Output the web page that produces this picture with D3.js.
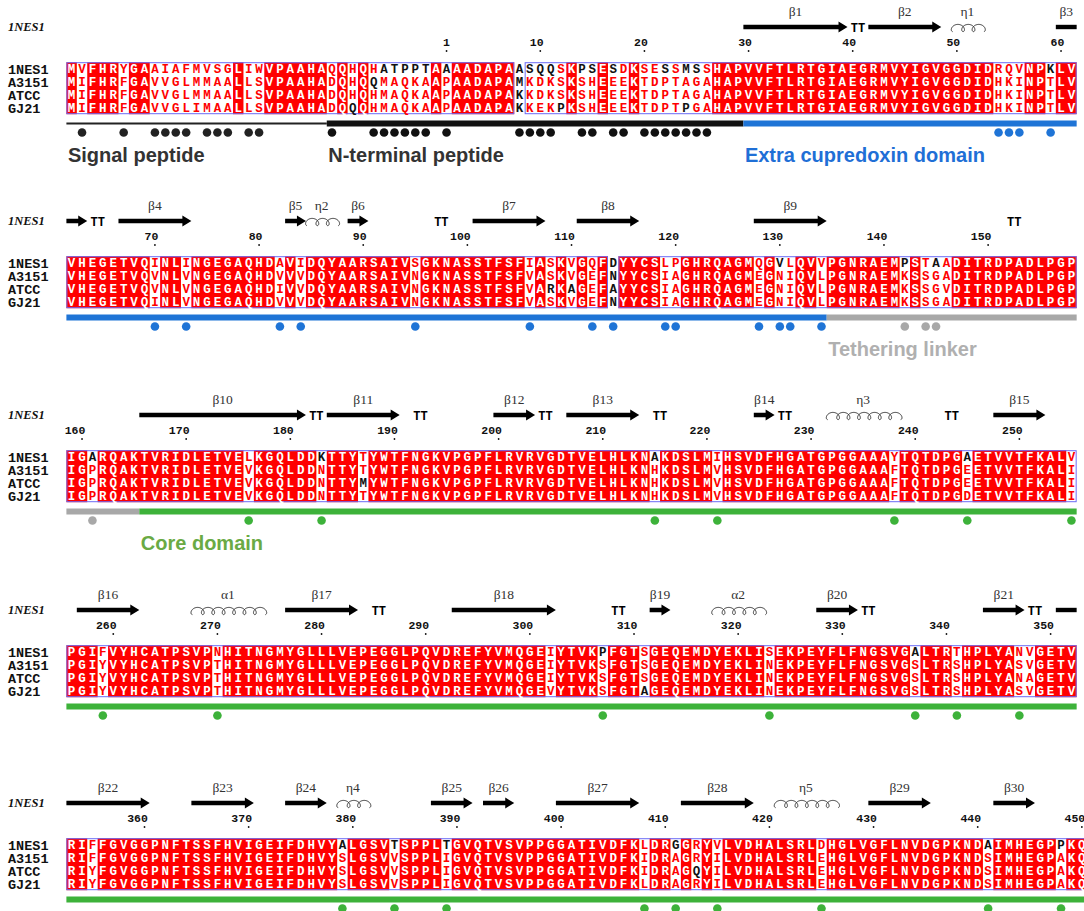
<!DOCTYPE html>
<html>
<head>
<meta charset="utf-8">
<script src="https://cdn.jsdelivr.net/npm/d3@7"></script>
<style>
  body { margin: 0; background: #fff; }
  svg { display: block; }
</style>
</head>
<body>
<svg id="chart" width="1084" height="911"></svg>
<script>
// ---------------- alignment data ----------------
const seqNames = ["1NES1", "A3151", "ATCC", "GJ21"];
// residue number (1NES1 numbering) of the first column of each line
const lineStart = [-35, 62, 159, 256, 353];

const seq1NES1 = [
  "MVFHRYGAAIAFMVSGLIWVPAAHAQQHQHATPPTAAAADAPAASQQSKPSESDKSESSMSSHAPVVFTLRTGIAEGRMVYIGVGGDIDRQVNPKLV",
  "VHEGETVQINLINGEGAQHDAVIDQYAARSAIVSGKNASSTFSFIASKVGQFDYYCSLPGHRQAGMQGVLQVVPGNRAEMPSTAADITRDPADLPGP",
  "IGARQAKTVRIDLETVELKGQLDDKTTYTYWTFNGKVPGPFLRVRVGDTVELHLKNAKDSLMIHSVDFHGATGPGGAAAYTQTDPGAETVVTFKALV",
  "PGIFVYHCATPSVPNHITNGMYGLLLVEPEGGLPQVDREFYVMQGEIYTVKPFGTSGEQEMDYEKLISEKPEYFLFNGSVGALTRTHPLYANVGETV",
  "RIFFGVGGPNFTSSFHVIGEIFDHVYALGSVTSPPLTGVQTVSVPPGGATIVDFKLDRGGRYVLVDHALSRLDHGLVGFLNVDGPKNDAIMHEGPPKQ"
];
const seqA3151 = [
  "MIFHRFGAVVGLMMAALLSVPAAHADQHQQMAQKAAPAADAPAMKDKSKSHEEEKTDPTAGAHAPVVFTLRTGIAEGRMVYIGVGGDIDHKINPTLV",
  "VHEGETVQVNLVNGEGAQHDVVVDQYAARSAIVNGKNASSTFSFVASKVGEFNYYCSIAGHRQAGMEGNIQVLPGNRAEMKSSGADITRDPADLPGP",
  "IGPRQAKTVRIDLETVEVKGQLDDNTTYTYWTFNGKVPGPFLRVRVGDTVELHLKNHKDSLMVHSVDFHGATGPGGAAAFTQTDPGEETVVTFKALI",
  "PGIYVYHCATPSVPTHITNGMYGLLLVEPEGGLPQVDREFYVMQGEIYTVKSFGTSGEQEMDYEKLINEKPEYFLFNGSVGSLTRSHPLYASVGETV",
  "RIFFGVGGPNFTSSFHVIGEIFDHVYSLGSVVSPPLIGVQTVSVPPGGATIVDFKIDRAGRYILVDHALSRLEHGLVGFLNVDGPKNDSIMHEGPAKQ"
];
const seqATCC = [
  "MIFHRFGAVVGLMMAALLSVPAAHADQHQHMAQKAAPAADAPAKKDKSKSHEEEKTDPTAGAHAPVVFTLRTGIAEGRMVYIGVGGDIDHKINPTLV",
  "VHEGETVQVNLVNGEGAQHDIVVDQYAARSAIVNGKNASSTFSFVARKAGEFAYYCSIAGHRQAGMEGNIQVLPGNRAEMKSSGVDITRDPADLPGP",
  "IGPRQAKTVRIDLETVEVKGQLDDNTTYMYWTFNGKVPGPFLRVRVGDTVELHLKNHKDSLMVHSVDFHGATGPGGAAAFTQTDPGEETVVTFKALI",
  "PGIYVYHCATPSVPTHITNGMYGLLLVEPEGGLPQVDREFYVMQGEIYTVKSFGTSGEQEMDYEKLINEKPEYFLFNGSVGSLTRSHPLYANAGETV",
  "RIYFGVGGPNFTSSFHVIGEIFDHVYSLGSVVSPPLIGVQTVSVPPGGATIVDFKIDRAGQYILVDHALSRLEHGLVGFLNVDGPKNDSIMHEGPAKQ"
];
const seqGJ21 = [
  "MIFHRFGAVVGLIMAALLSVPAAHADQQQHMAQKAAPAADAPAKKEKPKSHEEEKTDPTPGAHAPVVFTLRTGIAEGRMVYIGVGGDIDHKINPTLV",
  "VHEGETVQINLVNGEGAQHDVVVDQYAARSAIVNGKNASSTFSFVASKVGEFNYYCSIAGHRQAGMEGNIQVLPGNRAEMKSSGADITRDPADLPGP",
  "IGPRQAKTVRIDLETVEVKGQLDDNTTYTYWTFNGKVPGPFLRVRVGDTVELHLKNHKDSLMVHSVDFHGATGPGGAAAFTQTDPGDETVVTFKALI",
  "PGIYVYHCATPSVPTHITNGMYGLLLVEPEGGLPQVDREFYVMQGEVYTVKSFGTAGEQEMDYEKLINEKPEYFLFNGSVGSLTRSHPLYASVGETV",
  "RIYFGVGGPNFTSSFHVIGEIFDHVYSLGSVVSPPLIGVQTVSVPPGGATIVDFKLDRAGRYILVDHALSRLEHGLVGFLNVDGPKNDSIMHEGPAKQ"
];

// columns (1-based, per line) that are not boxed as similar
const unboxedColumns = [[44], [53], [], [], []];
// residues printed in black inside boxed columns: [sequence index, column]
const blackResidues = [
  [[0,31],[0,32],[0,33],[0,34],[0,35],[0,37],[0,45],[0,46],[0,47],[3,48],[0,50],[0,51],[0,53],[0,58],[0,60],[3,60],[0,61],[0,95],[3,28],[1,30]],
  [[0,69],[0,81],[0,84],[2,47],[2,49]],
  [[0,3],[0,25],[2,29],[0,57],[0,87]],
  [[0,52],[3,56],[0,82]],
  [[0,27],[0,32],[0,37],[0,59],[2,61],[0,89],[0,96]]
];

// ruler numbers per line
const rulerTicks = [
  [1, 10, 20, 30, 40, 50, 60],
  [70, 80, 90, 100, 110, 120, 130, 140, 150],
  [160, 170, 180, 190, 200, 210, 220, 230, 240, 250],
  [260, 270, 280, 290, 300, 310, 320, 330, 340, 350],
  [360, 370, 380, 390, 400, 410, 420, 430, 440, 450]
];

// secondary structure of 1NES1: [type, first residue, last residue, label]
// E = strand, H = helix (alpha / 3-10), T = turn
const secondaryStructure = [
  ["E", 30, 39, "β1"], ["T", 40, 41, ""], ["E", 42, 48, "β2"], ["H", 50, 52, "η1"],
  ["E", 60, 63, "β3"], ["T", 64, 65, ""],
  ["E", 67, 73, "β4"], ["E", 83, 84, "β5"], ["H", 85, 87, "η2"], ["E", 89, 90, "β6"],
  ["T", 97, 98, ""], ["E", 101, 107, "β7"], ["E", 111, 116, "β8"], ["E", 128, 134, "β9"],
  ["T", 152, 153, ""],
  ["E", 166, 181, "β10"], ["T", 182, 183, ""], ["E", 184, 190, "β11"], ["T", 192, 193, ""],
  ["E", 200, 203, "β12"], ["T", 204, 205, ""], ["E", 207, 213, "β13"], ["T", 215, 216, ""],
  ["E", 225, 226, "β14"], ["T", 227, 228, ""], ["H", 232, 238, "η3"], ["T", 243, 244, ""],
  ["E", 248, 252, "β15"],
  ["E", 257, 262, "β16"], ["H", 268, 274, "α1"], ["E", 277, 283, "β17"], ["T", 285, 286, ""],
  ["E", 293, 302, "β18"], ["T", 308, 309, ""], ["E", 312, 313, "β19"], ["H", 318, 322, "α2"],
  ["E", 328, 331, "β20"], ["T", 332, 333, ""], ["E", 344, 347, "β21"], ["T", 348, 349, ""],
  ["E", 351, 360, "β22"], ["E", 365, 370, "β23"], ["E", 374, 377, "β24"], ["H", 379, 381, "η4"],
  ["E", 388, 391, "β25"], ["E", 393, 395, "β26"], ["E", 400, 407, "β27"], ["E", 412, 418, "β28"],
  ["H", 421, 426, "η5"], ["E", 430, 435, "β29"], ["E", 442, 445, "β30"]
];

// domains (1NES1 numbering)
const domainNames = ["Signal peptide", "N-terminal peptide", "Extra cupredoxin domain", "Tethering linker", "Core domain"];
const domainFrom = [-35, -10, 30, 135, 166];
const domainTo = [-11, 29, 134, 165, 450];
const domainColors = ["#222222", "#111111", "#1f74d6", "#a8a8a8", "#3db23a"];
const domainTextColors = ["#333333", "#333333", "#1f6fd6", "#b0b0b0", "#6aaa44"];
const domainBarWeight = [2, 6, 6, 6, 6];
// line on which each domain caption is written
const domainLabelLine = [0, 0, 0, 1, 2];

// columns (per line) where 1NES1 differs from the other strains
const markedColumns = [
  [2, 6, 9, 10, 11, 12, 14, 15, 16, 18, 19, 26, 30, 31, 32, 33, 34, 35, 37, 44, 45, 46, 47, 50, 51, 53, 54, 56, 57, 58, 59, 60, 61, 62, 90, 91, 92, 95],
  [9, 12, 21, 23, 34, 45, 51, 53, 58, 59, 67, 69, 70, 73, 81, 83, 84],
  [3, 18, 25, 57, 63, 80, 87, 97],
  [4, 15, 52, 68, 82, 86, 92],
  [27, 32, 37, 56, 59, 63, 73, 89, 96]
];

// ---------------- drawing ----------------
const allSeqs = [seq1NES1, seqA3151, seqATCC, seqGJ21];
const svg = d3.select("#chart");
const colW = 10.415;
const rowStep = 13;
const xCol = d3.scaleLinear().domain([0, 97]).range([66.4, 66.4 + 97 * colW]); // left edge of 0-based column
const lineTop = [0, 194, 388, 583, 776];
const rowY = d3.scaleLinear().domain([0, 1]).range([69, 69 + rowStep]);

const RED = "#ff0000", FRAME = "#6b6bf5";
const seqFont = "'Liberation Mono', 'DejaVu Sans Mono', monospace";

function runs(flags) {
  const out = []; let s = -1;
  flags.forEach((f, i) => {
    if (f && s < 0) s = i;
    if (!f && s >= 0) { out.push([s, i - 1]); s = -1; }
  });
  if (s >= 0) out.push([s, flags.length - 1]);
  return out;
}

function domainAt(res) {
  for (let d = 0; d < domainFrom.length; d++) if (res >= domainFrom[d] && res <= domainTo[d]) return d;
  return -1;
}

for (let b = 0; b < 5; b++) {
  const g = svg.append("g").attr("transform", `translate(0,${lineTop[b]})`);
  const nCol = seq1NES1[b].length;
  const cols = d3.range(nCol).map(c => allSeqs.map(s => s[b][c]));
  const identical = cols.map(r => r.every(a => a === r[0]));
  const boxed = cols.map((r, c) => !unboxedColumns[b].includes(c + 1));
  const blackSet = new Set(blackResidues[b].map(d => d[0] + ":" + d[1]));

  const bgTop = rowY(0) - 6.8, bgH = rowStep * 4;

  // red background for strictly conserved columns
  g.selectAll("rect.ident").data(runs(identical)).join("rect")
    .attr("x", d => xCol(d[0])).attr("width", d => xCol(d[1] + 1) - xCol(d[0]))
    .attr("y", bgTop).attr("height", bgH).attr("fill", RED);

  // blue boxes around similar stretches
  g.selectAll("rect.box").data(runs(boxed)).join("rect")
    .attr("x", d => xCol(d[0]) + 0.5).attr("width", d => xCol(d[1] + 1) - xCol(d[0]) - 1)
    .attr("y", bgTop + 0.5).attr("height", bgH - 1)
    .attr("fill", "none").attr("stroke", FRAME).attr("stroke-width", 1);

  // residues
  allSeqs.forEach((s, i) => {
    g.append("g").selectAll("text").data(s[b].split("")).join("text")
      .attr("x", (d, c) => xCol(c + 0.5)).attr("y", rowY(i) + 4.4)
      .attr("text-anchor", "middle")
      .attr("font-family", seqFont).attr("font-weight", "bold").attr("font-size", 12.5)
      .attr("fill", (d, c) => {
        if (identical[c]) return "#ffffff";
        if (!boxed[c]) return "#111111";
        return blackSet.has(i + ":" + (c + 1)) ? "#111111" : RED;
      })
      .text(d => d);
    g.append("text").attr("x", 8).attr("y", rowY(i) + 4.6)
      .attr("font-family", "'Liberation Mono', monospace").attr("font-weight", "bold").attr("font-size", 13.5)
      .attr("fill", "#111").text(seqNames[i]);
  });

  // structure row caption
  g.append("text").attr("x", 8).attr("y", 31)
    .attr("font-family", "'Liberation Serif', serif").attr("font-weight", "bold").attr("font-style", "italic")
    .attr("font-size", 12.5).attr("fill", "#111").text("1NES1");

  // ruler
  const ticks = rulerTicks[b].map(n => ({ n, c: n - lineStart[b] + 1 }));
  g.selectAll("text.tick").data(ticks).join("text")
    .attr("x", d => xCol(d.c - 0.5) + 3.4).attr("y", 46)
    .attr("text-anchor", "end")
    .attr("font-family", seqFont).attr("font-weight", "bold").attr("font-size", 11.5)
    .attr("fill", "#111").text(d => d.n);
  g.selectAll("circle.tick").data(ticks).join("circle")
    .attr("cx", d => xCol(d.c - 0.5)).attr("cy", 51).attr("r", 0.9).attr("fill", "#111");

  // secondary structure
  const first = lineStart[b], last = lineStart[b] + nCol - 1;
  secondaryStructure.forEach(([type, s, e, label]) => {
    if (e < first || s > last) return;
    const cs = Math.max(s, first) - first, ce = Math.min(e, last) - first; // 0-based
    const xa = xCol(cs), xb = xCol(ce + 1), yc = 27;
    const hasHead = e <= last;
    if (type === "E") {
      if (hasHead) {
        const hl = 9;
        g.append("path").attr("fill", "#000").attr("d",
          `M${xa},${yc - 2.2}L${xb - hl},${yc - 2.2}L${xb - hl},${yc - 5.5}L${xb},${yc}L${xb - hl},${yc + 5.5}L${xb - hl},${yc + 2.2}L${xa},${yc + 2.2}Z`);
      } else {
        g.append("rect").attr("x", xa).attr("y", yc - 2.2).attr("width", xb - xa).attr("height", 4.4).attr("fill", "#000");
      }
    } else if (type === "T") {
      g.append("text").attr("x", (xa + xb) / 2).attr("y", yc + 4.5).attr("text-anchor", "middle")
        .attr("font-family", seqFont).attr("font-weight", "bold").attr("font-size", 12).attr("fill", "#000").text("TT");
    } else {
      const n = ce - cs + 1, w = (xb - xa) / n, r = w / (2 * Math.PI), dd = 3.6;
      const pts = d3.range(0, n * 2 * Math.PI + 0.001, 0.12).map(t => [xa + r * t - dd * Math.sin(t) + 1, yc + 1 + dd * Math.cos(t)]);
      g.append("path").attr("d", d3.line().curve(d3.curveCatmullRom)(pts))
        .attr("fill", "none").attr("stroke", "#222").attr("stroke-width", 0.9);
    }
    if (label) {
      // caption sits over the longest piece of an element split across lines
      const inThis = ce - cs + 1;
      const prevPiece = Math.max(0, Math.min(e, first - 1) - s + 1);
      const nextPiece = Math.max(0, e - Math.max(s, last + 1) + 1);
      if (inThis > prevPiece && inThis >= nextPiece) {
        g.append("text").attr("x", (xa + xb) / 2).attr("y", 16).attr("text-anchor", "middle")
          .attr("font-family", "'Liberation Serif', serif").attr("font-size", 13.5).attr("fill", "#333").text(label);
      }
    }
  });

  // domain bars
  const barY = 123.5;
  const domCols = d3.range(nCol).map(c => domainAt(first + c));
  const segs = [];
  domCols.forEach((d, c) => {
    if (segs.length && segs[segs.length - 1].d === d) segs[segs.length - 1].e = c;
    else segs.push({ d, s: c, e: c });
  });
  g.selectAll("rect.dom").data(segs.filter(s => s.d >= 0)).join("rect")
    .attr("x", d => xCol(d.s)).attr("width", d => xCol(d.e + 1) - xCol(d.s))
    .attr("y", d => barY - domainBarWeight[d.d] / 2).attr("height", d => domainBarWeight[d.d])
    .attr("fill", d => domainColors[d.d]);

  // markers for 1NES1-specific residues
  g.selectAll("circle.mark").data(markedColumns[b]).join("circle")
    .attr("cx", c => xCol(c - 0.5)).attr("cy", 132.5).attr("r", 4.3)
    .attr("fill", c => domainColors[domainAt(first + c - 1)]);

  // domain captions
  domainNames.forEach((name, d) => {
    if (domainLabelLine[d] !== b) return;
    const c0 = Math.max(domainFrom[d], first) - first;
    g.append("text").attr("x", xCol(c0) + 1.5).attr("y", 162)
      .attr("font-family", "'Liberation Sans', Arial, sans-serif").attr("font-weight", "bold").attr("font-size", 20)
      .attr("fill", domainTextColors[d]).text(name);
  });
}
</script>
</body>
</html>
